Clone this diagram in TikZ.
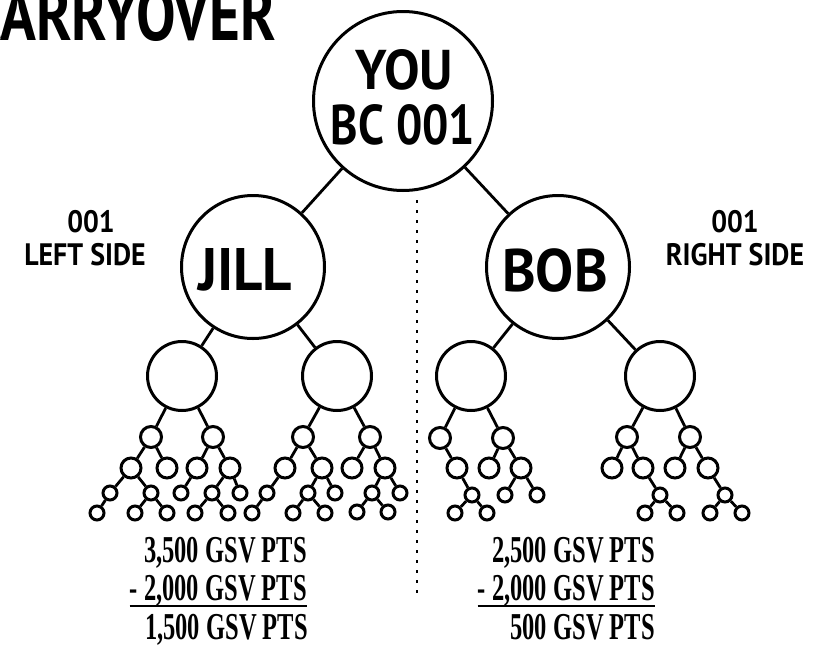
\documentclass[tikz,border=0pt]{standalone}
\usepackage{graphicx}
\usepackage{fontspec}
\setmainfont{PT Sans}
\newfontfamily\ptsfont{Liberation Serif}
\usetikzlibrary{calc}
\newcommand{\sqz}[2]{\scalebox{#1}[1]{#2}}
\tikzset{
  ring/.style={circle,draw,line width=3pt,inner sep=0pt},
  cz/.style={ring,minimum size=179pt},
  cone/.style={ring,minimum size=143pt},
  ctwo/.style={ring,minimum size=69pt},
  cthree/.style={ring,minimum size=21pt},
  cfour/.style={ring,minimum size=20pt},
  cfive/.style={ring,minimum size=14pt},
  link/.style={line width=2.8pt},
  plaintxt/.style={inner sep=0pt},
  bigtxt/.style={plaintxt,font=\bfseries\fontsize{56}{60}\selectfont},
  nametxt/.style={plaintxt,font=\bfseries\fontsize{60}{64}\selectfont},
  sidetxt/.style={plaintxt,font=\bfseries\fontsize{31}{33}\selectfont},
  ptstxt/.style={plaintxt,anchor=base east,font=\ptsfont\bfseries\fontsize{38}{40}\selectfont},
  dotline/.style={line width=2.8pt,dash pattern=on 2.8pt off 7.2pt}
}
\begin{document}
\begin{tikzpicture}[x=1pt,y=-1pt]
\useasboundingbox (0,0) rectangle (835,667);
% title (cut at top)
\node[plaintxt,anchor=base east,font=\bfseries\fontsize{74}{76}\selectfont] (title) at (276,40) {\sqz{0.80}{CARRYOVER}};
% main circles
\node[cz] (you) at (403,101) {};
\node[bigtxt] (you1) at (404,70) {\sqz{0.95}{YOU}};
\node[bigtxt] (you2) at (403,125) {\sqz{0.83}{BC 001}};
\node[cone] (jill) at (253,267) {};
\node[nametxt] (jilltxt) at (245,270) {\sqz{0.95}{JILL}};
\node[cone] (bob) at (558,267) {};
\node[nametxt] (bobtxt) at (555,270) {\sqz{0.95}{BOB}};
\node[ctwo] (m1) at (182,376) {};
\node[ctwo] (m2) at (337,376) {};
\node[ctwo] (m3) at (471,376) {};
\node[ctwo] (m4) at (660,376) {};
% level 3
\foreach \n/\x/\y in {a1/151/437,a2/213/437,b1/303/437,b2/370/437,c1/440/438,c2/503/438,d1/627/437,d2/690/437}
  \node[cthree] (\n) at (\x,\y) {};
% level 4
\foreach \n/\x/\y in {a11/131/468,a12/167/468,a21/197/468,a22/230/468,
  b11/285/468,b12/322/468,b21/352/468,b22/385/468,
  c11/457/468,c21/489/468,c22/521/468,
  d11/612/468,d12/643/468,d21/675/468,d22/708/468}
  \node[cfour] (\n) at (\x,\y) {};
% level 5 and 6
\foreach \n/\x/\y in {a111/110/493,a112/151/493,a211/181/493,a221/212/493,a222/240/493,
  a1111/97/513,a1121/135/513,a1122/167/513,a2211/195/513,a2212/228/513,
  b111/267/493,b121/308/493,b122/335/493,b221/372/493,b222/400/493,
  b1111/252/513,b1211/293/513,b1212/325/513,b2211/357/512,b2212/388/512,
  c111/472/495,c221/505/495,c222/537/495,c1111/455/513,c1112/487/513,
  d121/660/495,d221/725/495,d1211/645/513,d1212/677/513,d2211/710/513,d2212/742/513}
  \node[cfive] (\n) at (\x,\y) {};
% connectors
\foreach \a/\b in {you/jill,you/bob,jill/m1,jill/m2,bob/m3,bob/m4,
  m1/a1,m1/a2,a1/a11,a1/a12,a11/a111,a11/a112,a111/a1111,a112/a1121,a112/a1122,
  a2/a21,a2/a22,a21/a211,a22/a221,a22/a222,a221/a2211,a221/a2212,
  m2/b1,m2/b2,b1/b11,b1/b12,b11/b111,b111/b1111,b12/b121,b12/b122,b121/b1211,b121/b1212,
  b2/b21,b2/b22,b22/b221,b22/b222,b221/b2211,b221/b2212,
  m3/c1,m3/c2,c1/c11,c11/c111,c111/c1111,c111/c1112,c2/c21,c2/c22,c22/c221,c22/c222,
  m4/d1,m4/d2,d1/d11,d1/d12,d12/d121,d121/d1211,d121/d1212,d2/d21,d2/d22,d22/d221,d221/d2211,d221/d2212}
  \draw[link] (\a) -- (\b);
% side labels
\node[sidetxt] (l001) at (91,222) {\sqz{0.9}{001}};
\node[sidetxt] (lside) at (85,255) {\sqz{0.9}{LEFT SIDE}};
\node[sidetxt] (r001) at (735,222) {\sqz{0.9}{001}};
\node[sidetxt] (rside) at (735,255) {\sqz{0.9}{RIGHT SIDE}};
% divider
\coordinate (dtop) at (417,200);
\coordinate (dbot) at (417,598);
\draw[dotline] (dtop) -- (dbot);
% totals
\node[ptstxt] (la) at (307,562) {\sqz{0.645}{3,500 GSV PTS}};
\node[ptstxt] (lb) at (307,600) {\sqz{0.645}{- 2,000 GSV PTS}};
\node[ptstxt] (lc) at (308,639) {\sqz{0.645}{1,500 GSV PTS}};
\node[ptstxt] (ra) at (655,562) {\sqz{0.645}{2,500 GSV PTS}};
\node[ptstxt] (rb) at (655,600) {\sqz{0.645}{- 2,000 GSV PTS}};
\node[ptstxt] (rc) at (655,639) {\sqz{0.645}{500 GSV PTS}};
\draw[line width=2pt] ($(lb.base west)+(0,6)$) -- ($(lb.base east)+(0,6)$);
\draw[line width=2pt] ($(rb.base west)+(0,6)$) -- ($(rb.base east)+(0,6)$);
\end{tikzpicture}
\end{document}
